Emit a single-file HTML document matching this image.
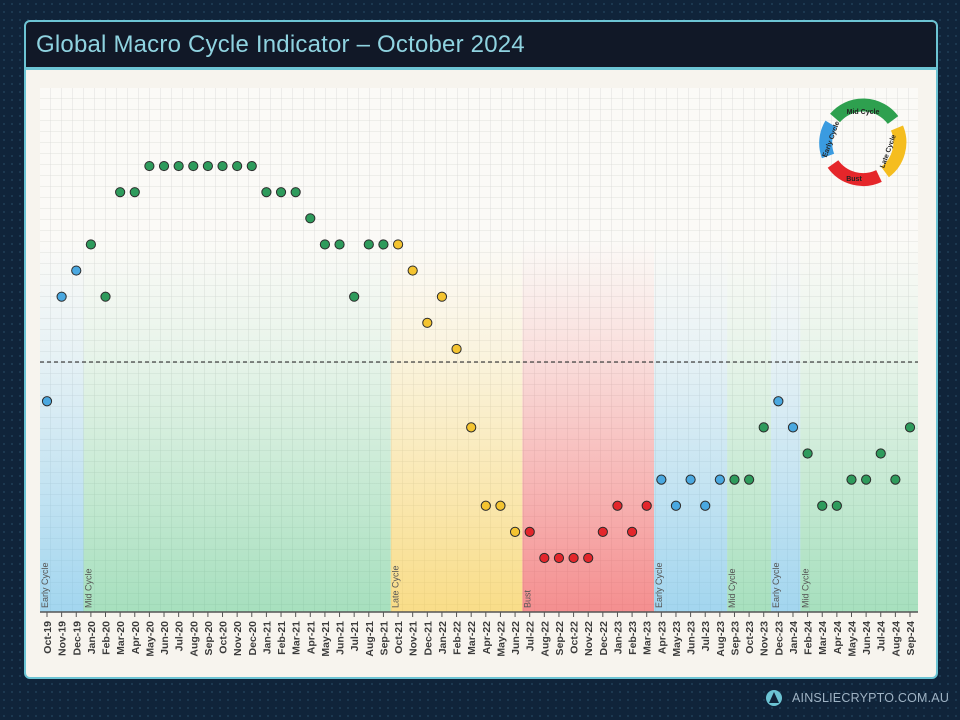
<!DOCTYPE html>
<html><head><meta charset="utf-8">
<style>
html,body{margin:0;padding:0;width:960px;height:720px;overflow:hidden;background:#0f2232;font-family:"Liberation Sans",sans-serif;}
#bg{position:absolute;left:0;top:0;width:960px;height:720px;background-color:#10243a;background-image:radial-gradient(#1d3a52 1px,transparent 1.2px);background-size:8px 8px;}
#frame{position:absolute;left:24px;top:20px;width:910px;height:655px;border:2px solid #6cc4d4;border-radius:6px;background:#f7f4ee;overflow:hidden;}
#titlebar{position:absolute;left:0;top:0;width:910px;height:45px;background:#111827;border-bottom:3px solid #6cc4d4;}
#title{position:absolute;left:10px;top:9px;font-size:24px;color:#8fd3e0;letter-spacing:0.2px;}
#footer{position:absolute;left:792px;top:691px;font-size:12.5px;color:#9fb3c4;letter-spacing:0.2px;}
svg{position:absolute;left:0;top:0;}
</style></head>
<body>
<div id="bg"></div>
<div id="frame">
 <div id="titlebar"><div id="title">Global Macro Cycle Indicator – October 2024</div></div>
</div>
<svg width="960" height="720" id="chart">
 <defs>
  <linearGradient id="gb" x1="0" y1="0" x2="0" y2="1"><stop offset="0" stop-color="#5ab8e8" stop-opacity="0"/><stop offset="0.3" stop-color="#5ab8e8" stop-opacity="0.12"/><stop offset="1" stop-color="#5ab8e8" stop-opacity="0.55"/></linearGradient>
  <linearGradient id="gg" x1="0" y1="0" x2="0" y2="1"><stop offset="0" stop-color="#3fbf78" stop-opacity="0"/><stop offset="0.3" stop-color="#3fbf78" stop-opacity="0.1"/><stop offset="1" stop-color="#3fbf78" stop-opacity="0.45"/></linearGradient>
  <linearGradient id="gy" x1="0" y1="0" x2="0" y2="1"><stop offset="0" stop-color="#f7c52e" stop-opacity="0"/><stop offset="0.3" stop-color="#f7c52e" stop-opacity="0.12"/><stop offset="1" stop-color="#f7c52e" stop-opacity="0.55"/></linearGradient>
  <linearGradient id="gr" x1="0" y1="0" x2="0" y2="1"><stop offset="0" stop-color="#f0474a" stop-opacity="0"/><stop offset="0.3" stop-color="#f0474a" stop-opacity="0.15"/><stop offset="1" stop-color="#f0474a" stop-opacity="0.6"/></linearGradient>
  <pattern id="grid" x="40" y="88" width="11" height="11" patternUnits="userSpaceOnUse"><path d="M11 0V11H0" fill="none" stroke="#d9d9d6" stroke-width="0.8"/></pattern>
 </defs>
 <rect x="40" y="88" width="878" height="524" fill="#fbfaf7"/>
 <rect x="40" y="88" width="878" height="524" fill="url(#grid)"/>
 <g id="phases"></g>
 <g id="axis"></g>
 <g id="dots"></g>
 <g transform="translate(863,142)">
  <path d="M-28 -24 A37 37 0 0 1 30 -22" fill="none" stroke="#2ea04f" stroke-width="13"/>
  <path d="M34 -14 A37 37 0 0 1 22 30" fill="none" stroke="#f5bd1f" stroke-width="13"/>
  <path d="M16 34 A37 37 0 0 1 -30 22" fill="none" stroke="#e5262a" stroke-width="13"/>
  <path d="M-35 14 A37 37 0 0 1 -32 -18" fill="none" stroke="#3a9be0" stroke-width="13"/>
  <text x="0" y="-28" font-size="7" font-weight="bold" text-anchor="middle" fill="#222">Mid Cycle</text>
  <text x="27" y="10" font-size="7" font-weight="bold" text-anchor="middle" fill="#222" transform="rotate(-70 27 10)">Late Cycle</text>
  <text x="-9" y="39" font-size="7" font-weight="bold" text-anchor="middle" fill="#222">Bust</text>
  <text x="-30" y="-2" font-size="7" font-weight="bold" text-anchor="middle" fill="#222" transform="rotate(-70 -30 -2)">Early Cycle</text>
 </g>
 <line x1="40" y1="362" x2="918" y2="362" stroke="#444" stroke-width="1.3" stroke-dasharray="4,3"/>
 <g><circle cx="774" cy="698" r="8" fill="#6cc4d4"/><path d="M774 692 L779 703 L769 703Z" fill="#10243a"/></g>
</svg>
<div id="footer">AINSLIECRYPTO.COM.AU</div>
<script>
const months=["Oct-19","Nov-19","Dec-19","Jan-20","Feb-20","Mar-20","Apr-20","May-20","Jun-20","Jul-20","Aug-20","Sep-20","Oct-20","Nov-20","Dec-20","Jan-21","Feb-21","Mar-21","Apr-21","May-21","Jun-21","Jul-21","Aug-21","Sep-21","Oct-21","Nov-21","Dec-21","Jan-22","Feb-22","Mar-22","Apr-22","May-22","Jun-22","Jul-22","Aug-22","Sep-22","Oct-22","Nov-22","Dec-22","Jan-23","Feb-23","Mar-23","Apr-23","May-23","Jun-23","Jul-23","Aug-23","Sep-23","Oct-23","Nov-23","Dec-23","Jan-24","Feb-24","Mar-24","Apr-24","May-24","Jun-24","Jul-24","Aug-24","Sep-24"];
const values=[6,10,11,12,10,14,14,15,15,15,15,15,15,15,15,14,14,14,13,12,12,10,12,12,12,11,9,10,8,5,2,2,1,1,0,0,0,0,1,2,1,2,3,2,3,2,3,3,3,5,6,5,4,2,2,3,3,4,3,5];
const phases=["E","E","E","M","M","M","M","M","M","M","M","M","M","M","M","M","M","M","M","M","M","M","M","M","L","L","L","L","L","L","L","L","L","B","B","B","B","B","B","B","B","B","E","E","E","E","E","M","M","M","E","E","M","M","M","M","M","M","M","M"];
const phaseNames={E:"Early Cycle",M:"Mid Cycle",L:"Late Cycle",B:"Bust"};
const dotColor={E:"#4aa8e0",M:"#2e9b5c",L:"#f4c430",B:"#e3262b"};
const grad={E:"url(#gb)",M:"url(#gg)",L:"url(#gy)",B:"url(#gr)"};
const NS="http://www.w3.org/2000/svg";
const x0=47,x1=910,step=(x1-x0)/(months.length-1);
function xs(i){return x0+i*step;}
function ys(v){return 558-v*26.13;}
function mk(t,a,p){const e=document.createElementNS(NS,t);for(const k in a)e.setAttribute(k,a[k]);p.appendChild(e);return e;}
const gP=document.getElementById('phases'),gA=document.getElementById('axis'),gD=document.getElementById('dots');
let s=0;
for(let i=1;i<=months.length;i++){
 if(i===months.length||phases[i]!==phases[s]){
  const left=s===0?40:(xs(s-1)+xs(s))/2, right=i===months.length?918:(xs(i-1)+xs(i))/2;
  const r=mk('rect',{x:left,y:240,width:right-left,height:372,fill:grad[phases[s]]},gP);
  
  
  const t=mk('text',{x:0,y:0,'font-size':9,fill:'#555',transform:`translate(${left+8},608) rotate(-90)`},gP);
  t.textContent=phaseNames[phases[s]];
  
  
  s=i;
 }
}
const ax=mk('line',{x1:40,y1:612,x2:918,y2:612,stroke:'#555','stroke-width':1.5},gA);


months.forEach((m,i)=>{
 mk('line',{x1:xs(i),y1:612,x2:xs(i),y2:617,stroke:'#555','stroke-width':1},gA);
 const t=mk('text',{x:0,y:0,'font-size':10.5,'font-weight':'bold',fill:'#3a3a3a','text-anchor':'end',transform:`translate(${xs(i)+4},621) rotate(-90)`},gA);
 t.textContent=m;
 
 
});
values.forEach((v,i)=>{
 const c=mk('circle',{cx:xs(i),cy:ys(v),r:4.6,fill:dotColor[phases[i]],stroke:'#2b2b2b','stroke-width':1},gD);
 
 
});
</script>
</body></html>
